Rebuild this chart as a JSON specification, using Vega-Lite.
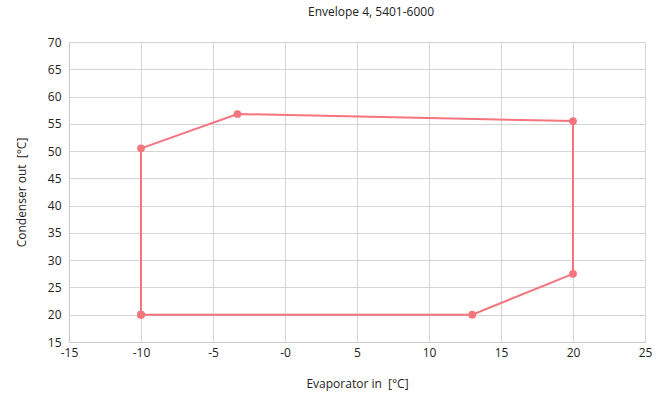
{
  "$schema": "https://vega.github.io/schema/vega-lite/v6.json",
  "autosize": "none",
  "width": 576,
  "height": 300,
  "padding": {"left": 69, "top": 42, "right": 22, "bottom": 56},
  "background": "white",
  "title": {"text": "Envelope 4, 5401-6000", "font": "Open Sans", "fontSize": 12, "fontWeight": "normal", "color": "#222", "offset": 17, "dx": 14},
  "data": {"values": [
    {"i": 0, "x": -10, "y": 20},
    {"i": 1, "x": 13, "y": 20},
    {"i": 2, "x": 20, "y": 27.5},
    {"i": 3, "x": 20, "y": 55.5},
    {"i": 4, "x": -3.3, "y": 56.8},
    {"i": 5, "x": -10, "y": 50.5},
    {"i": 6, "x": -10, "y": 20}
  ]},
  "config": {
    "view": {"stroke": null},
    "axis": {"labelFont": "Open Sans", "titleFont": "Open Sans", "labelFontSize": 12, "titleFontSize": 12, "titleFontWeight": "normal", "labelColor": "#222", "titleColor": "#222", "gridColor": "#d4d4d4", "domainColor": "#c8c8c8", "ticks": false}
  },
  "encoding": {
    "x": {"field": "x", "type": "quantitative", "scale": {"domain": [-15, 25], "nice": false, "zero": false}, "axis": {"values": [-15, -10, -5, 0, 5, 10, 15, 20, 25], "labelExpr": "datum.value == 0 ? '-0' : replace(datum.label, '\u2212', '-')", "title": "Evaporator in\u00a0 [°C]", "labelPadding": 5, "titlePadding": 20, "labelFlush": false}},
    "y": {"field": "y", "type": "quantitative", "scale": {"domain": [15, 70], "nice": false, "zero": false}, "axis": {"values": [15, 20, 25, 30, 35, 40, 45, 50, 55, 60, 65, 70], "title": "Condenser out\u00a0 [°C]", "labelPadding": 8, "titlePadding": 19}},
    "order": {"field": "i"}
  },
  "layer": [
    {"mark": {"type": "line", "color": "#f4757d", "strokeWidth": 2}},
    {"mark": {"type": "point", "filled": true, "opacity": 1, "color": "#f4757d", "size": 60}}
  ]
}
